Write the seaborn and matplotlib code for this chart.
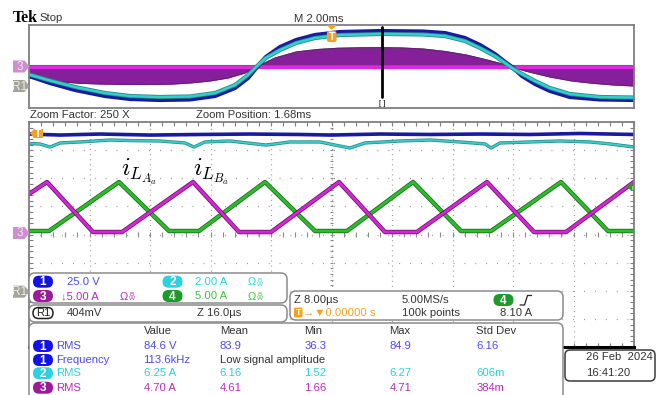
import numpy as np
import pandas as pd
import seaborn as sns
import matplotlib
matplotlib.use("Agg")
import matplotlib.pyplot as plt
from matplotlib import font_manager
from matplotlib.patches import FancyBboxPatch, Polygon

# ---------------- data ----------------
# overview window: time in ms (M 2.00 ms/div)
top_t_ch12 = [0, 0.69, 1.52, 2.51, 3.34, 4.33, 5.32, 6.15, 6.81, 7.24, 7.54, 7.83, 8.30, 8.83,
              9.45, 10.28, 11.64, 13.02, 13.75, 14.41, 14.91, 15.40, 15.74, 15.97, 16.30, 16.73,
              17.22, 17.88, 18.88, 20.0]
top_ch1_v = [-22.9, -39.8, -56.6, -71.1, -78.3, -80.7, -79.5, -71.1, -51.8, -27.7, -1.2, 22.9,
             47.0, 63.9, 75.9, 83.1, 85.5, 84.3, 80.7, 68.7, 51.8, 30.1, 10.8, -1.2, -22.9,
             -42.2, -59.0, -73.5, -79.5, -80.7]
top_ch2_a = [-1.54, -2.70, -3.95, -5.11, -5.69, -5.88, -5.78, -5.11, -3.57, -1.64, 0.10, 1.64,
             3.18, 4.53, 5.49, 6.07, 6.27, 6.17, 5.88, 4.92, 3.57, 2.02, 0.67, -0.29, -1.45,
             -2.80, -4.14, -5.30, -5.88, -5.98]
top_t_env = [0, 0.53, 1.12, 1.69, 2.35, 3.17, 3.93, 4.66, 5.32, 5.98, 6.58, 7.14, 7.57, 8.13,
             8.83, 9.55, 10.21, 10.94, 11.64, 12.33, 13.02, 13.75, 14.45, 15.14, 15.83, 16.40,
             17.22, 17.95, 18.64, 19.34, 20.0]
top_ch3_env_a = [-5.54, -6.51, -7.47, -8.10, -8.43, -8.63, -8.67, -8.53, -7.95, -6.99, -5.54,
                 -3.13, 0.0, 4.10, 6.99, 8.19, 8.77, 9.01, 9.06, 8.92, 8.43, 7.23, 5.54, 3.13,
                 0.48, -2.17, -5.06, -6.99, -8.10, -8.92, -9.40]
top_ch4_env_a = [0.9, 0.9, 0.9, 0.9, 0.9, 0.9, 0.9, 0.9, 0.9, 0.9, 0.9, 0.9, 0.9, 4.6, 7.5,
                 8.7, 9.3, 9.5, 9.6, 9.4, 8.9, 7.7, 6.0, 3.6, 1.0, 0.9, 0.9, 0.9, 0.9, 0.9, 0.9]

# zoomed window: time in us (Z 8.00 us/div)
ch3_t = [0, 2.38, 8.46, 12.30, 21.69, 27.77, 32.00, 40.99, 47.07, 51.30, 60.56, 66.78, 71.01, 80.0]
ch3_a = [7.2, 9.33, 0.44, 0.44, 9.33, 0.44, 0.44, 9.33, 0.44, 0.44, 9.33, 0.44, 0.44, 9.33]
ch4_t = [0, 2.64, 11.90, 18.51, 22.48, 31.21, 37.82, 42.05, 50.78, 57.12, 61.09, 70.35, 76.56, 80.0]
ch4_a = [0.62, 0.62, 9.33, 0.62, 0.62, 9.33, 0.62, 0.62, 9.33, 0.62, 0.62, 9.33, 0.62, 0.62]
ch1_t = [0, 4.10, 9.39, 16.00, 22.61, 29.22, 35.83, 39.93, 46.41, 53.02, 59.63, 66.25, 72.86, 80.0]
ch1_v = [89.3, 88.4, 89.3, 88.4, 88.9, 89.3, 88.9, 88.4, 89.3, 88.9, 89.3, 88.9, 89.8, 88.9]
ch2_t = [0, 1.45, 2.78, 4.10, 6.74, 10.71, 13.36, 17.32, 20.63, 21.82, 23.27, 26.58, 31.34,
         34.51, 38.48, 41.12, 42.45, 44.43, 49.06, 53.02, 56.99, 60.30, 61.09, 62.28, 66.25,
         70.22, 74.18, 76.83, 80.0]
ch2_a = [6.47, 6.44, 6.22, 6.51, 6.58, 6.72, 6.68, 6.65, 6.51, 6.22, 6.58, 6.65, 6.36, 6.58,
         6.58, 6.29, 6.15, 6.51, 6.65, 6.72, 6.58, 6.44, 6.15, 6.51, 6.58, 6.65, 6.58, 6.44, 6.22]

# scope settings
ch1_scale, ch2_scale, ch3_scale, ch4_scale = 25.0, 2.0, 5.0, 5.0
top_span_ms = 20.0
zoom_span_us = 80.0

# readouts
meas_header = ["Value", "Mean", "Min", "Max", "Std Dev"]
meas_rows = [
    ("1", "RMS", ["84.6 V", "83.9", "36.3", "84.9", "6.16"]),
    ("1", "Frequency", ["113.6kHz", "Low signal amplitude", "", "", ""]),
    ("2", "RMS", ["6.25 A", "6.16", "1.52", "6.27", "606m"]),
    ("3", "RMS", ["4.70 A", "4.61", "1.66", "4.71", "384m"]),
]

# ---------------- style ----------------
sns.set_theme(style="white")
avail = {f.name for f in font_manager.fontManager.ttflist}
UI = "Liberation Sans Narrow" if "Liberation Sans Narrow" in avail else "Liberation Sans"
plt.rcParams["font.family"] = [UI, "DejaVu Sans"]
plt.rcParams["mathtext.fontset"] = "cm"
FS = 9.3 if UI == "Liberation Sans Narrow" else 8.1

W, H = 663, 395
fig = plt.figure(figsize=(W / 100, H / 100), dpi=100)
fig.patch.set_facecolor("white")


def px_axes(x0, y0, x1, y1, z=1):
    return fig.add_axes([x0 / W, 1 - y1 / H, (x1 - x0) / W, (y1 - y0) / H], zorder=z)


FRAME = "#7f7f7f"
C1, C1T = "#1a1aa0", "#4b4bf5"
C2, C2T = "#2cc8cc", "#2fcfdc"
C3, C3T = "#d824d8", "#b82ab8"
C4, C4T = "#2cbc2c", "#3cc43c"
B1, B2, B3, B4 = "#1212e6", "#2ad2e2", "#9a1c9a", "#1c9a2c"
TXT = "#333333"
ORANGE = "#f5a020"

# ---------------- overview panel ----------------
axt = px_axes(29, 25, 634, 108)
axt.set_xlim(0, top_span_ms)
axt.set_ylim(-4, 4)
axt.set_xticks([]); axt.set_yticks([])
for s in axt.spines.values():
    s.set_color(FRAME); s.set_linewidth(1.3)

env3 = np.array(top_ch3_env_a) / ch3_scale
env4 = np.array(top_ch4_env_a) / ch4_scale
axt.fill_between(top_t_env, 0, env4, color="#2b7a2b", lw=0)
axt.fill_between(top_t_env, 0, env3, color="#85209a", lw=0)
sns.lineplot(x=top_t_env, y=env3, ax=axt, color="#6d1a80", lw=0.8, estimator=None)
axt.axhline(0, color="#e524e5", lw=2.2)
axt.axhline(0.17, color="#2f8f2f", lw=0.8)

y1 = np.array(top_ch1_v) / ch1_scale
y2 = np.array(top_ch2_a) / ch2_scale
sns.lineplot(x=top_t_ch12, y=y1, ax=axt, color=C1, lw=3.0, estimator=None)
sns.lineplot(x=top_t_ch12, y=y2, ax=axt, color="#2a8a80", lw=3.0, estimator=None)
sns.lineplot(x=top_t_ch12, y=y2, ax=axt, color="#30d0d0", lw=1.8, estimator=None)
axt.set_xlabel(""); axt.set_ylabel("")

# ---------------- zoom panel ----------------
axz = px_axes(29, 122, 634, 347)
axz.set_xlim(0, zoom_span_us)
axz.set_ylim(-4, 4)
for s in axz.spines.values():
    s.set_color(FRAME); s.set_linewidth(1.3)
axz.spines["bottom"].set_color("black"); axz.spines["bottom"].set_linewidth(2.2)
axz.set_xticks(np.arange(0, zoom_span_us + 0.1, zoom_span_us / 10))
axz.set_xticks(np.arange(0, zoom_span_us + 0.1, zoom_span_us / 50), minor=True)
axz.set_yticks(np.arange(-4, 4.1, 1))
axz.set_yticks(np.arange(-4, 4.01, 0.2), minor=True)
axz.tick_params(which="both", direction="in", length=3, width=0.8, color=FRAME,
                top=True, right=True, bottom=True, left=True,
                labelbottom=False, labelleft=False)
GRID = "#8a8a8a"
for k in range(1, 10):
    axz.axvline(k * zoom_span_us / 10, color=GRID, lw=0.9, dashes=(0.7, 3.35))
for k in range(-3, 4):
    axz.axhline(k, color=GRID, lw=0.9, dashes=(0.7, 8.0))
axz.vlines(np.arange(0, zoom_span_us + 0.1, zoom_span_us / 50), -0.08, 0.08, color=GRID, lw=0.8)
axz.hlines(np.arange(-4, 4.01, 0.2), 39.75, 40.25, color=GRID, lw=0.8)

sns.lineplot(x=ch1_t, y=np.array(ch1_v) / ch1_scale, ax=axz, color=C1, lw=2.6, estimator=None)
sns.lineplot(x=ch2_t, y=np.array(ch2_a) / ch2_scale, ax=axz, color="#2a8a8a", lw=2.4, estimator=None)
sns.lineplot(x=ch2_t, y=np.array(ch2_a) / ch2_scale, ax=axz, color="#3ccccc", lw=1.3, estimator=None)
sns.lineplot(x=ch4_t, y=np.array(ch4_a) / ch4_scale, ax=axz, color="#1e6e1e", lw=3.2, estimator=None)
sns.lineplot(x=ch4_t, y=np.array(ch4_a) / ch4_scale, ax=axz, color=C4, lw=2.0, estimator=None)
sns.lineplot(x=ch3_t, y=np.array(ch3_a) / ch3_scale, ax=axz, color="#6a1a6a", lw=3.2, estimator=None)
sns.lineplot(x=ch3_t, y=np.array(ch3_a) / ch3_scale, ax=axz, color=C3, lw=2.0, estimator=None)
axz.set_xlabel(""); axz.set_ylabel("")

# ---------------- overlay (UI) ----------------
ov = fig.add_axes([0, 0, 1, 1], zorder=10)
ov.set_xlim(0, W); ov.set_ylim(H, 0); ov.axis("off"); ov.patch.set_alpha(0)


def txt(x, y, s, c=TXT, fs=FS, **kw):
    ov.text(x, y, s, color=c, fontsize=fs, va="center", ha="left", **kw)


def rbox(x0, y0, x1, y1, ec="#8c8c8c", fc="white", r=6, lw=1.1, z=1):
    ov.add_patch(FancyBboxPatch((x0, y0), x1 - x0, y1 - y0,
                                boxstyle=f"round,pad=0,rounding_size={r}",
                                ec=ec, fc=fc, lw=lw, zorder=z))


def badge(cx, cy, s, fc, w=20, h=12):
    ov.add_patch(FancyBboxPatch((cx - w / 2, cy - h / 2), w, h,
                                boxstyle=f"round,pad=0,rounding_size={h/2}",
                                ec="none", fc=fc, zorder=3))
    ov.text(cx, cy + 0.5, s, color="white", fontsize=8.5, fontweight="bold",
            ha="center", va="center", zorder=4)


def marker(y, s, fc, tc, x0=13, x1=29.5):
    ov.add_patch(Polygon([(x0, y - 6), (x1 - 5, y - 6), (x1, y), (x1 - 5, y + 6), (x0, y + 6)],
                         closed=True, fc=fc, ec="none", zorder=3))
    ov.text((x0 + x1 - 5) / 2 + 1, y + 0.5, s, color=tc, fontsize=8.5, ha="center",
            va="center", zorder=4)


def bwlimit(x, y, c):
    ov.text(x, y + 0.5, "\u03a9", color=c, fontsize=8, ha="left", va="center")
    ov.text(x + 9, y + 0.5, "B\nW", color=c, fontsize=4.6, ha="left", va="center",
            linespacing=0.85)


# header
ov.text(13, 18.5, "Tek", family=["Liberation Serif", "DejaVu Serif"], fontweight="bold",
        fontsize=11.5, color="black", va="center", ha="left")
txt(39.5, 18, "Stop")
txt(294, 18.5, "M 2.00ms")
txt(30, 115.5, "Zoom Factor: 250 X")
txt(196, 115.5, "Zoom Position: 1.68ms")

# overview markers
marker(66.5, "3", "#cf8fcf", "#f6e2f6")
marker(86, "R1", "#a4a49c", "#ececE4")
ov.add_patch(Polygon([(326.7, 25), (336.7, 25), (331.7, 30)], fc=ORANGE, ec="none", zorder=3))
ov.add_patch(FancyBboxPatch((327, 31), 9.5, 11, boxstyle="round,pad=0,rounding_size=2",
                            fc=ORANGE, ec="none", zorder=3))
ov.text(331.8, 36.8, "T", color="white", fontsize=7.5, fontweight="bold", ha="center",
        va="center", zorder=4)
ov.plot([381.7, 381.7], [27, 97], color="black", lw=2, zorder=3)
ov.text(382, 103.5, "[ ]", fontsize=5.5, ha="center", va="center", color="black")

# zoom panel markers
ov.add_patch(Polygon([(30, 133.5), (34, 129), (43, 129), (43, 138), (34, 138)], fc=ORANGE,
                     ec="none", zorder=3))
ov.text(38.5, 133.8, "T", color="white", fontsize=7.5, fontweight="bold", ha="center",
        va="center", zorder=4)
marker(233, "3", "#cf8fcf", "#f6e2f6")
marker(291.7, "R1", "#a4a49c", "#ececE4")
ov.add_patch(Polygon([(625.5, 187), (632.5, 183), (632.5, 191)], fc="#22a022", ec="none",
                     zorder=3))

ov.text(121, 175.5, r"$i_{L_{A_a}}$", fontsize=18, color="black", va="baseline")
ov.text(193, 175.5, r"$i_{L_{B_a}}$", fontsize=18, color="black", va="baseline")

# channel box
rbox(29, 273, 287, 303)
rbox(29, 305, 287, 322)
badge(43, 281.7, "1", B1); txt(67, 281.7, "25.0 V", C1T)
badge(172.5, 281.7, "2", B2); txt(195, 281.7, "2.00 A", C2T)
bwlimit(248, 281.7, C2T)
badge(43, 296, "3", B3); txt(61, 296, "\u21935.00 A", C3T)
bwlimit(120, 296, C3T)
badge(172.5, 296, "4", B4); txt(195, 296, "5.00 A", C4T)
bwlimit(248, 296, C4T)
ov.add_patch(FancyBboxPatch((33, 307.5), 20, 11, boxstyle="round,pad=0,rounding_size=5.5",
                            ec="#222222", fc="white", lw=1.1, zorder=3))
ov.text(43, 313.3, "R1", color="#222222", fontsize=8, ha="center", va="center", zorder=4)
txt(67, 313, "404mV"); txt(197, 313, "Z 16.0\u00b5s")

# timebase box
rbox(290, 291, 563, 320)
txt(294, 300, "Z 8.00\u00b5s"); txt(402, 300, "5.00MS/s")
badge(503.5, 300, "4", B4)
ov.plot([520, 524.5, 527.5, 531.5], [305, 305, 295.5, 295.5], color="#222222", lw=0.9)
ov.add_patch(FancyBboxPatch((294, 307.5), 8.5, 10, boxstyle="round,pad=0,rounding_size=1.5",
                            fc=ORANGE, ec="none", zorder=3))
ov.text(298.3, 312.8, "T", color="white", fontsize=6.5, fontweight="bold", ha="center",
        va="center", zorder=4)
txt(303, 312.7, "\u2192\u25bc0.00000 s", ORANGE)
txt(402, 312.7, "100k points"); txt(499.5, 312.7, "8.10 A")

# measurement box
rbox(29, 323, 563, 410)
cols = [143.5, 219.8, 304.5, 389.3, 476.2]
for cx, h in zip(cols, meas_header):
    txt(cx, 330.7, h)
row_y = [346, 360, 373.3, 387.7]
badge_col = {"1": (B1, C1T), "2": (B2, C2T), "3": (B3, C3T)}
for ry, (ch, name, vals) in zip(row_y, meas_rows):
    bc, tc = badge_col[ch]
    badge(43, ry, ch, bc)
    txt(56.5, ry, name, tc)
    for cx, v in zip(cols, vals):
        c = TXT if v.startswith("Low") else tc
        txt(cx, ry, v, c)

# date box
rbox(565, 350, 655, 381, ec="#3a3a3a", r=5)
txt(585.7, 357.3, "26 Feb  2024")
txt(585.7, 372.7, "16:41:20")

fig.savefig("out.png", dpi=100, facecolor="white")
